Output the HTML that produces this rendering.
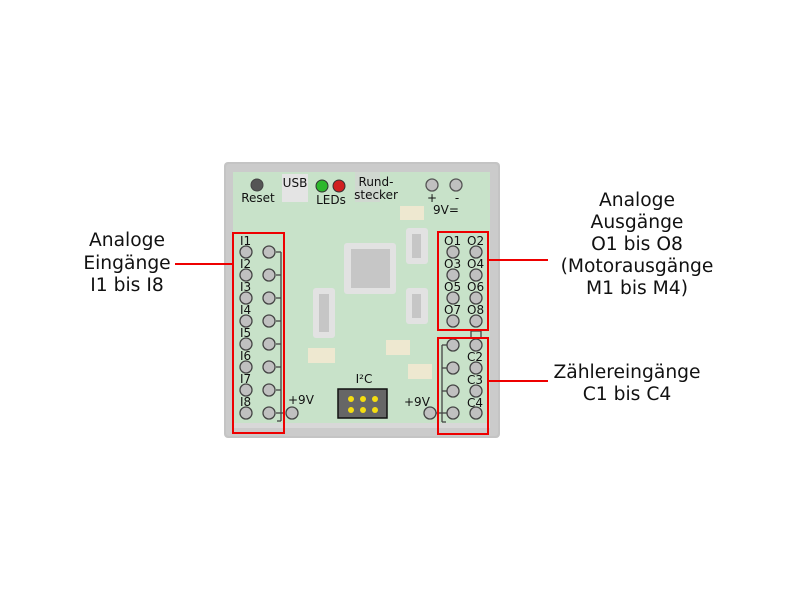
<!DOCTYPE html>
<html><head><meta charset="utf-8"><style>
html,body{margin:0;padding:0;background:#fff;}
svg{display:block;}
text{font-family:"DejaVu Sans","Liberation Sans",sans-serif;fill:#111;}
</style></head><body>
<svg width="800" height="600" viewBox="0 0 800 600" xmlns="http://www.w3.org/2000/svg">
<rect x="224" y="162" width="276" height="276" rx="4" fill="#c4c4c4"/>
<rect x="226" y="164" width="272" height="272" rx="3" fill="#cbcbcb"/>
<rect x="233" y="172" width="257" height="255" fill="#c8e2c9"/>
<rect x="233" y="423" width="257" height="5" fill="#d8d8d8"/>
<circle cx="257" cy="185" r="6" fill="#555" stroke="#444"/>
<text x="258" y="202" font-size="12" text-anchor="middle">Reset</text>
<rect x="282" y="174" width="26" height="28" fill="#e4e4e4"/>
<text x="295" y="187" font-size="12" text-anchor="middle">USB</text>
<circle cx="322" cy="186" r="6" fill="#2db82d" stroke="#333"/>
<circle cx="339" cy="186" r="6" fill="#d02020" stroke="#333"/>
<text x="331" y="204" font-size="12" text-anchor="middle">LEDs</text>
<rect x="355" y="172" width="25" height="30" fill="#d0d8d0"/>
<text x="376" y="186" font-size="12" text-anchor="middle">Rund-</text>
<text x="376" y="199" font-size="12" text-anchor="middle">stecker</text>
<circle cx="432" cy="185" r="6" fill="#c0c0c0" stroke="#555" stroke-width="1.3"/>
<circle cx="456" cy="185" r="6" fill="#c0c0c0" stroke="#555" stroke-width="1.3"/>
<text x="432" y="202" font-size="12" text-anchor="middle">+</text>
<text x="457" y="202" font-size="12" text-anchor="middle">-</text>
<text x="446" y="214" font-size="12" text-anchor="middle">9V=</text>
<rect x="400" y="206" width="24" height="14" fill="#eee8d0"/>
<rect x="344" y="243" width="52" height="51" rx="3" fill="#e2e2e2"/>
<rect x="351" y="249" width="39" height="39" fill="#c6c6c6"/>
<rect x="406" y="228" width="22" height="36" rx="3" fill="#e2e2e2"/>
<rect x="412" y="234" width="9" height="24" fill="#c6c6c6"/>
<rect x="406" y="288" width="22" height="36" rx="3" fill="#e2e2e2"/>
<rect x="412" y="294" width="9" height="24" fill="#c6c6c6"/>
<rect x="313" y="288" width="22" height="50" rx="3" fill="#e2e2e2"/>
<rect x="319" y="294" width="10" height="38" fill="#c6c6c6"/>
<rect x="308" y="348" width="27" height="15" fill="#eee8d0"/>
<rect x="386" y="340" width="24" height="15" fill="#eee8d0"/>
<rect x="408" y="364" width="24" height="15" fill="#eee8d0"/>
<text x="364" y="383" font-size="12" text-anchor="middle">I²C</text>
<rect x="338" y="389" width="49" height="29" fill="#666" stroke="#111" stroke-width="1.5"/>
<g fill="#f5dd10"><circle cx="351" cy="399" r="3"/><circle cx="363" cy="399" r="3"/><circle cx="375" cy="399" r="3"/><circle cx="351" cy="410" r="3"/><circle cx="363" cy="410" r="3"/><circle cx="375" cy="410" r="3"/></g>
<g stroke="#444" stroke-width="1.3" fill="#c0c0c0">
<line x1="276" y1="252" x2="281" y2="252"/><line x1="276" y1="275" x2="281" y2="275"/><line x1="276" y1="298" x2="281" y2="298"/><line x1="276" y1="321" x2="281" y2="321"/><line x1="276" y1="344" x2="281" y2="344"/><line x1="276" y1="367" x2="281" y2="367"/><line x1="276" y1="390" x2="281" y2="390"/><line x1="276" y1="413" x2="285" y2="413"/>
<line x1="281" y1="252" x2="281" y2="421"/><line x1="277" y1="421" x2="281" y2="421"/>
<circle cx="246" cy="252" r="6"/><circle cx="269" cy="252" r="6"/>
<circle cx="246" cy="275" r="6"/><circle cx="269" cy="275" r="6"/>
<circle cx="246" cy="298" r="6"/><circle cx="269" cy="298" r="6"/>
<circle cx="246" cy="321" r="6"/><circle cx="269" cy="321" r="6"/>
<circle cx="246" cy="344" r="6"/><circle cx="269" cy="344" r="6"/>
<circle cx="246" cy="367" r="6"/><circle cx="269" cy="367" r="6"/>
<circle cx="246" cy="390" r="6"/><circle cx="269" cy="390" r="6"/>
<circle cx="246" cy="413" r="6"/><circle cx="269" cy="413" r="6"/>
<circle cx="292" cy="413" r="6"/>
<circle cx="453" cy="252" r="6"/><circle cx="476" cy="252" r="6"/>
<circle cx="453" cy="275" r="6"/><circle cx="476" cy="275" r="6"/>
<circle cx="453" cy="298" r="6"/><circle cx="476" cy="298" r="6"/>
<circle cx="453" cy="321" r="6"/><circle cx="476" cy="321" r="6"/>
<line x1="442" y1="345" x2="447" y2="345"/><line x1="442" y1="368" x2="447" y2="368"/><line x1="442" y1="391" x2="447" y2="391"/><line x1="436" y1="413" x2="447" y2="413"/>
<line x1="442" y1="345" x2="442" y2="422"/><line x1="442" y1="422" x2="446" y2="422"/>
<rect x="471" y="331" width="10" height="7" fill="none"/>
<circle cx="453" cy="345" r="6"/><circle cx="476" cy="345" r="6"/>
<circle cx="453" cy="368" r="6"/><circle cx="476" cy="368" r="6"/>
<circle cx="453" cy="391" r="6"/><circle cx="476" cy="391" r="6"/>
<circle cx="453" cy="413" r="6"/><circle cx="476" cy="413" r="6"/>
<circle cx="430" cy="413" r="6"/>
</g>
<g font-size="12">
<text x="240" y="245">I1</text><text x="240" y="268">I2</text><text x="240" y="291">I3</text><text x="240" y="314">I4</text><text x="240" y="337">I5</text><text x="240" y="360">I6</text><text x="240" y="383">I7</text><text x="240" y="406">I8</text>
<text x="288" y="404">+9V</text><text x="404" y="406">+9V</text>
<text x="444" y="245">O1</text><text x="467" y="245">O2</text>
<text x="444" y="268">O3</text><text x="467" y="268">O4</text>
<text x="444" y="291">O5</text><text x="467" y="291">O6</text>
<text x="444" y="314">O7</text><text x="467" y="314">O8</text>
<text x="467" y="361">C2</text><text x="467" y="384">C3</text><text x="467" y="407">C4</text>
</g>
<g fill="none" stroke="#e00" stroke-width="2">
<rect x="233" y="233" width="51" height="200"/>
<rect x="438" y="232" width="50" height="98"/>
<rect x="438" y="338" width="50" height="96"/>
<line x1="175" y1="264" x2="233" y2="264"/>
<line x1="488" y1="260" x2="548" y2="260"/>
<line x1="488" y1="381" x2="548" y2="381"/>
</g>
<g font-size="18.7" text-anchor="middle">
<text x="127" y="246">Analoge</text>
<text x="127" y="269">Eingänge</text>
<text x="127" y="291">I1 bis I8</text>
<text x="637" y="206">Analoge</text>
<text x="637" y="228">Ausgänge</text>
<text x="637" y="250">O1 bis O8</text>
<text x="637" y="272">(Motorausgänge</text>
<text x="637" y="294">M1 bis M4)</text>
<text x="627" y="378">Zählereingänge</text>
<text x="627" y="400">C1 bis C4</text>
</g>
</svg>
</body></html>
